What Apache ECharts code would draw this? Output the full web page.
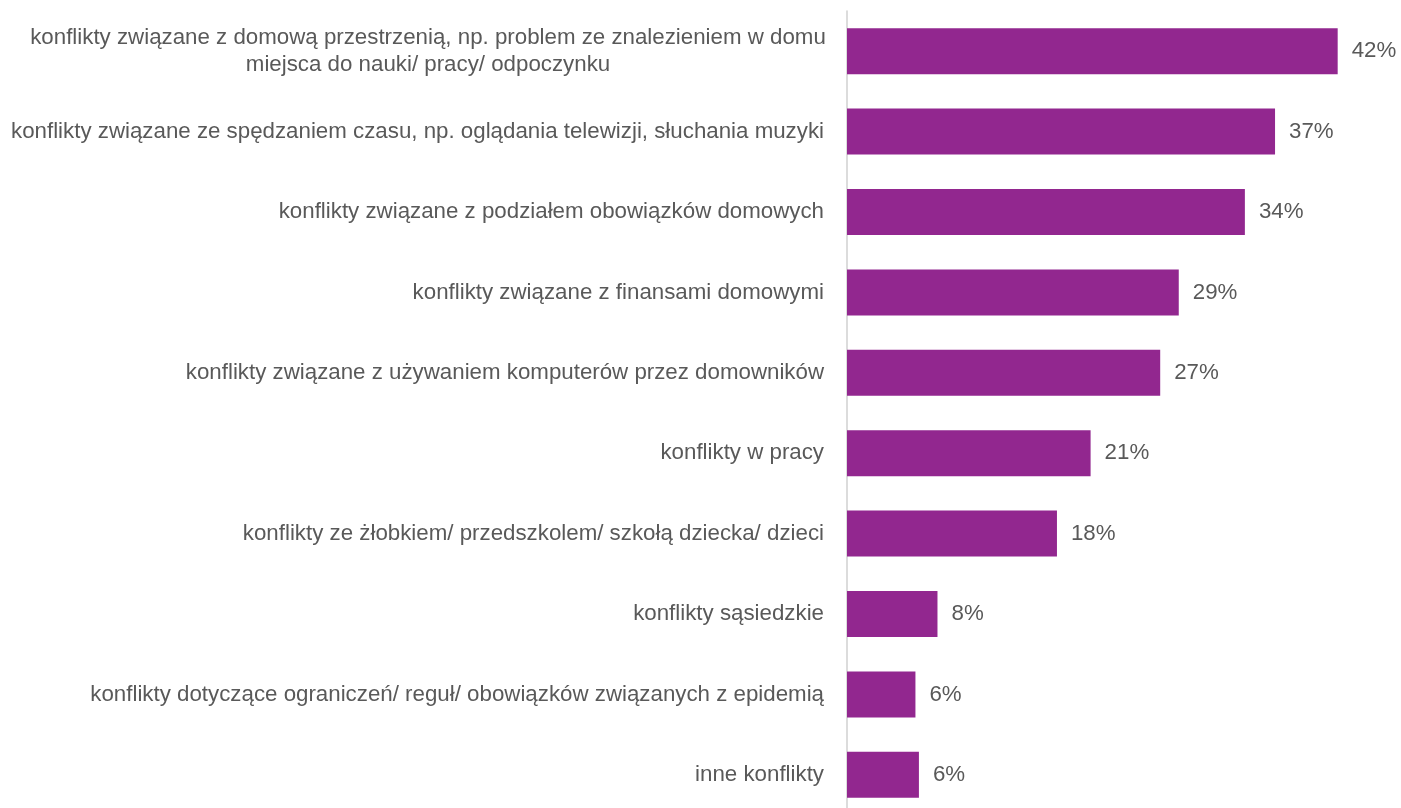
<!DOCTYPE html>
<html>
<head>
<meta charset="utf-8">
<script src="https://cdn.jsdelivr.net/npm/echarts@6/dist/echarts.min.js"></script>
<style>
  html, body { margin: 0; padding: 0; background: #fff; }
  #main { width: 1401px; height: 808px; }
</style>
</head>
<body>
<div id="main"></div>
<script>
// kategorie konfliktów (od góry)
var categories = [
  'konflikty związane z domową przestrzenią, np. problem ze znalezieniem w domu\nmiejsca do nauki/ pracy/ odpoczynku',
  'konflikty związane ze spędzaniem czasu, np. oglądania telewizji, słuchania muzyki',
  'konflikty związane z podziałem obowiązków domowych',
  'konflikty związane z finansami domowymi',
  'konflikty związane z używaniem komputerów przez domowników',
  'konflikty w pracy',
  'konflikty ze żłobkiem/ przedszkolem/ szkołą dziecka/ dzieci',
  'konflikty sąsiedzkie',
  'konflikty dotyczące ograniczeń/ reguł/ obowiązków związanych z epidemią',
  'inne konflikty'
];
var values = [42.3, 36.9, 34.3, 28.6, 27.0, 21.0, 18.1, 7.8, 5.9, 6.2];
// etykiety jak na wykresie
var valueLabels = ['42%', '37%', '34%', '29%', '27%', '21%', '18%', '8%', '6%', '6%'];

var FONT = '"Liberation Sans", Arial, sans-serif';
var GREY = '#595959';
var SIZE = 22.3;

var myChart = echarts.init(document.getElementById('main'));
myChart.setOption({
  animation: false,
  grid: { left: 847, right: 32, top: 11, height: 804, containLabel: false, outerBoundsMode: 'none' },
  xAxis: {
    type: 'value',
    min: 0,
    max: 45,
    show: false
  },
  yAxis: {
    type: 'category',
    inverse: true,
    data: categories,
    axisLine: { show: true, lineStyle: { color: '#d0d0d0', width: 1.5 } },
    axisTick: { show: false },
    axisLabel: {
      margin: 23,
      color: GREY,
      fontFamily: FONT,
      fontSize: SIZE,
      lineHeight: 27,
      formatter: function (v) {
        if (v.indexOf('\n') < 0) return v;
        return v.split('\n').map(function (s) { return '{c|' + s + '}'; }).join('\n');
      },
      rich: {
        c: { width: 792, align: 'center', color: GREY, fontFamily: FONT, fontSize: SIZE, lineHeight: 27 }
      }
    }
  },
  series: [{
    type: 'bar',
    data: values,
    barWidth: 46,
    itemStyle: { color: '#92278F' },
    label: {
      show: true,
      position: 'right',
      distance: 14,
      color: GREY,
      fontFamily: FONT,
      fontSize: SIZE,
      formatter: function (p) { return valueLabels[p.dataIndex]; }
    }
  }]
});
</script>
</body>
</html>
